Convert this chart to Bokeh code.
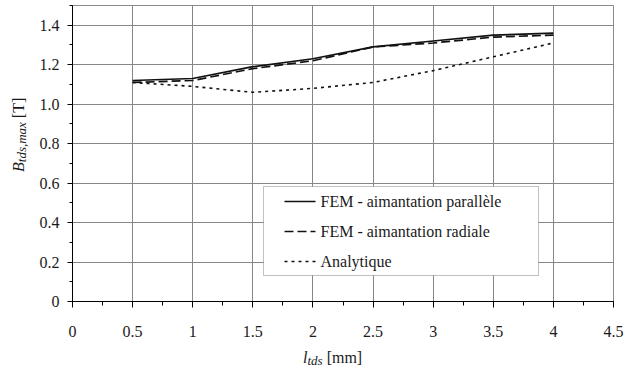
from bokeh.plotting import figure
from bokeh.models import (Range1d, FixedTicker, BoxAnnotation, Arrow, Label, Div)
from bokeh.layouts import column, row
from bokeh.embed import file_html
from bokeh.resources import INLINE

# ---- data ----
l_tds = [0.5, 1.0, 1.5, 2.0, 2.5, 3.0, 3.5, 4.0]
b_parallele = [1.12, 1.13, 1.19, 1.23, 1.29, 1.32, 1.35, 1.36]
b_radiale = [1.11, 1.12, 1.18, 1.22, 1.29, 1.31, 1.34, 1.35]
b_analytique = [1.11, 1.09, 1.06, 1.08, 1.11, 1.17, 1.24, 1.31]

x_ticks = [0, 0.5, 1, 1.5, 2, 2.5, 3, 3.5, 4, 4.5]
x_tick_labels = ["0", "0.5", "1", "1.5", "2", "2.5", "3", "3.5", "4", "4.5"]
x_minor = [0.25 * i for i in range(19)]
y_ticks = [0, 0.2, 0.4, 0.6, 0.8, 1.0, 1.2, 1.4]
y_tick_labels = ["0", "0.2", "0.4", "0.6", "0.8", "1.0", "1.2", "1.4"]
y_minor = [0.1 * i for i in range(16)]

series_names = ["FEM - aimantation parallèle", "FEM - aimantation radiale", "Analytique"]
x_title = ("l", "tds", "[mm]")
y_title = ("B", "tds,max", "[T]")

FONT = "Liberation Serif"
TXT = "#1a1a1a"
ROOT_STYLE = {"font-family": "'Liberation Serif', serif"}

p = figure(width=595, height=347, output_backend="svg", toolbar_location=None,
           x_range=Range1d(0, 4.5), y_range=Range1d(0, 1.5),
           min_border_left=42, min_border_right=12, min_border_top=5, min_border_bottom=46,
           margin=0)
p.styles = ROOT_STYLE
p.background_fill_color = "white"
p.border_fill_color = "white"
p.outline_line_color = "#8a8a8a"
p.outline_line_width = 1

p.xaxis.ticker = FixedTicker(ticks=x_ticks, minor_ticks=x_minor)
p.yaxis.ticker = FixedTicker(ticks=y_ticks, minor_ticks=y_minor)
p.xaxis.major_label_overrides = {t: s for t, s in zip(x_ticks, x_tick_labels)}
p.yaxis.major_label_overrides = {t: s for t, s in zip(y_ticks, y_tick_labels)}

for ax in (p.xaxis[0], p.yaxis[0]):
    ax.axis_line_color = "black"
    ax.axis_line_width = 1
    ax.major_tick_line_color = "black"
    ax.minor_tick_line_color = "black"
    ax.major_tick_in = 0
    ax.minor_tick_in = 0
    ax.major_label_text_font = FONT
    ax.major_label_text_font_size = "16px"
    ax.major_label_text_color = TXT
p.xaxis.major_tick_out = 6
p.xaxis.minor_tick_out = 4
p.xaxis.major_label_standoff = 18
p.yaxis.major_tick_out = 5
p.yaxis.minor_tick_out = 3
p.yaxis.major_label_standoff = 8

p.xgrid.ticker = FixedTicker(ticks=x_ticks)
p.ygrid.ticker = FixedTicker(ticks=y_ticks)
for g in (p.xgrid[0], p.ygrid[0]):
    g.grid_line_color = "#868686"
    g.grid_line_width = 1

# ---- series ----
p.line(l_tds, b_parallele, line_color="#111111", line_width=1.7)
p.line(l_tds, b_radiale, line_color="#111111", line_width=1.7, line_dash="9 4")
p.line(l_tds, b_analytique, line_color="#111111", line_width=1.6, line_dash="3 4")

# ---- legend (screen units relative to the frame) ----
p.add_layout(BoxAnnotation(left=191, right=466, top=115, bottom=26,
                           left_units="screen", right_units="screen",
                           top_units="screen", bottom_units="screen",
                           fill_color="white", fill_alpha=1.0,
                           line_color="#333333", line_width=1))
dashes = ["solid", "9 4", "3 4"]
rows_y = [100, 70, 40]
for name, dash, yy in zip(series_names, dashes, rows_y):
    p.add_layout(Arrow(start=None, end=None, x_start=212, y_start=yy, x_end=243, y_end=yy,
                       start_units="screen", end_units="screen",
                       line_color="#111111", line_width=1.7, line_dash=dash))
    p.add_layout(Label(x=248, y=yy, x_units="screen", y_units="screen", text=name,
                       text_font=FONT, text_font_size="16px", text_color=TXT,
                       text_baseline="middle", text_align="left"))

# ---- axis titles as HTML (italic + subscript) ----
base = f"font-family:'{FONT}',serif; font-size:16px; line-height:16px; color:{TXT}; white-space:nowrap;"
sub = "font-size:13px; vertical-align:-2px; font-style:italic;"

xhtml = (f'<div style="position:absolute; left:303px; top:3px; {base}">'
         f'<i>{x_title[0]}</i><span style="{sub}">{x_title[1]}</span> {x_title[2]}</div>')
yhtml = (f'<div style="position:absolute; left:11px; top:172px; transform:rotate(-90deg); '
         f'transform-origin:left top; {base}">'
         f'<i>{y_title[0]}</i><span style="{sub}">{y_title[1]}</span> {y_title[2]}</div>')

xdiv = Div(text=xhtml, width=625, height=22, margin=0,
           styles={"position": "relative", "overflow": "visible"})
ydiv = Div(text=yhtml, width=30, height=347, margin=0,
           styles={"position": "relative", "overflow": "visible"})

layout = column(row(ydiv, p, spacing=0, margin=0), xdiv, spacing=0, margin=0)
layout.styles = ROOT_STYLE

open("out.html", "w").write(file_html(layout, INLINE))
